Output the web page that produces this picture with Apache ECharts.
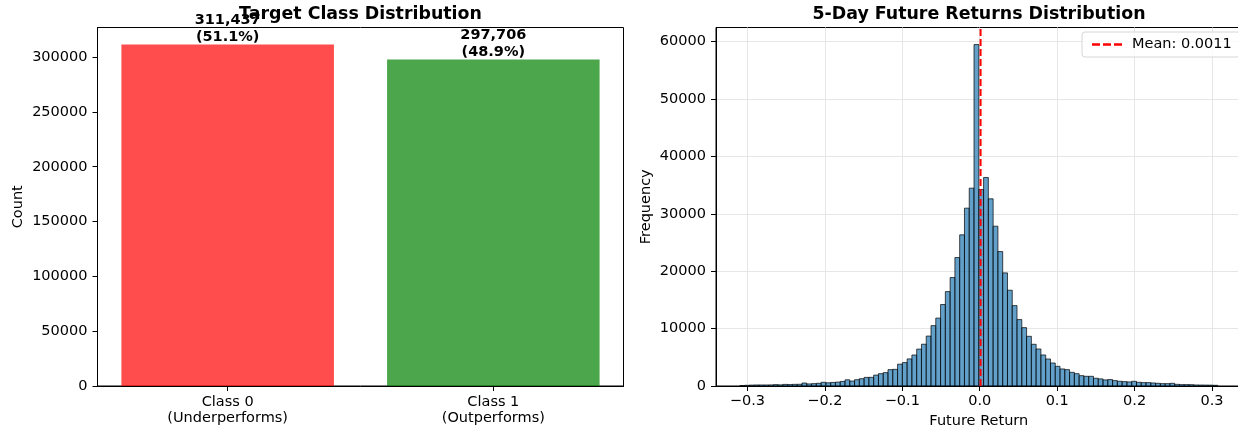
<!DOCTYPE html>
<html>
<head>
<meta charset="utf-8">
<script src="https://cdn.jsdelivr.net/npm/echarts@6/dist/echarts.min.js"></script>
<style>
  html, body { margin: 0; padding: 0; background: #ffffff; }
  #chart { width: 1238px; height: 431px; }
</style>
</head>
<body>
<div id="chart"></div>
<script>
// ---- data ----
const classNames = ['Class 0\n(Underperforms)', 'Class 1\n(Outperforms)'];
const classCounts = [311437, 297706];
const countTicks = [0, 50000, 100000, 150000, 200000, 250000, 300000];

// histogram of 5-day future returns: 100 equal bins over returnRange
const returnRange = [-0.3097, 0.3073];
const returnCounts = [
  80, 120, 160, 180, 180, 180, 190, 240, 200, 280,
  250, 290, 300, 520, 360, 410, 470, 650, 560, 620,
  680, 800, 1080, 860, 1100, 1270, 1500, 1510, 1900, 2150,
  2330, 2850, 2900, 3800, 4080, 4720, 5400, 6430, 7280, 8700,
  10520, 11830, 14200, 16450, 18900, 22380, 26340, 30990, 34480, 59500,
  34240, 36340, 32620, 27850, 23430, 19710, 16690, 14010, 11570, 10170,
  8660, 7270, 6450, 5410, 4710, 4010, 3430, 2970, 2850, 2380,
  2150, 1800, 1690, 1690, 1350, 1240, 1060, 1120, 940, 820,
  760, 710, 820, 650, 590, 590, 530, 470, 410, 410,
  470, 290, 240, 240, 230, 180, 170, 160, 150, 120
];
const meanReturn = 0.0011;
const freqTicks = [0, 10000, 20000, 30000, 40000, 50000, 60000];
const returnTicks = [-0.3, -0.2, -0.1, 0, 0.1, 0.2, 0.3];

// ---- derived values ----
const FONT = '"DejaVu Sans", "Liberation Sans", sans-serif';
const totalCount = classCounts.reduce((a, b) => a + b, 0);
const classYMax = Math.max(...classCounts) * 1.05;
const classData = classCounts.map((c, i) => [i, c]);

const binWidth = (returnRange[1] - returnRange[0]) / returnCounts.length;
const histData = returnCounts.map((c, i) => [
  returnRange[0] + i * binWidth,
  returnRange[0] + (i + 1) * binWidth,
  c
]);
const span = returnRange[1] - returnRange[0];
const histXMin = returnRange[0] - 0.05 * span;
const histXMax = returnRange[1] + 0.05 * span;
const histYMax = Math.max(...returnCounts) * 1.05;
const meanLabel = 'Mean: ' + meanReturn.toFixed(4);

const barFills = ['rgba(255,0,0,0.7)', 'rgba(0,128,0,0.7)'];

function fmtReturn(v) {
  if (Math.abs(v) < 1e-9) return '0.0';
  return (v < 0 ? '\u2212' : '') + Math.abs(v).toFixed(1);
}

function renderClassBar(params, api) {
  const idx = api.value(0);
  const count = api.value(1);
  const tl = api.coord([idx - 0.4, count]);
  const br = api.coord([idx + 0.4, 0]);
  const pct = (count / totalCount * 100).toFixed(1);
  return {
    type: 'group',
    children: [
      {
        type: 'rect',
        shape: { x: tl[0], y: tl[1], width: br[0] - tl[0], height: br[1] - tl[1] },
        style: { fill: barFills[params.dataIndex] }
      },
      {
        type: 'text',
        x: (tl[0] + br[0]) / 2,
        y: tl[1] + 1,
        style: {
          text: count.toLocaleString('en-US') + '\n(' + pct + '%)',
          align: 'center',
          verticalAlign: 'bottom',
          fontFamily: FONT,
          fontWeight: 'bold',
          fontSize: 14.5,
          lineHeight: 17,
          fill: '#000'
        }
      }
    ]
  };
}

function renderBin(params, api) {
  const p0 = api.coord([api.value(0), api.value(2)]);
  const p1 = api.coord([api.value(1), 0]);
  return {
    type: 'rect',
    shape: { x: p0[0], y: p0[1], width: p1[0] - p0[0], height: p1[1] - p0[1] },
    style: { fill: 'rgba(31,119,180,0.7)', stroke: 'rgba(0,0,0,0.7)', lineWidth: 1 }
  };
}

const tickText = { color: '#000', fontSize: 14.5, fontFamily: FONT };
const blackLine = { color: '#000', width: 1 };
const titleText = { fontFamily: FONT, fontSize: 17.4, fontWeight: 'bold', color: '#000' };

const chart = echarts.init(document.getElementById('chart'), null, { renderer: 'canvas' });

chart.setOption({
  animation: false,
  backgroundColor: '#ffffff',
  title: [
    { text: 'Target Class Distribution', left: 360.5, top: 6, textAlign: 'center', padding: 0, textStyle: titleText },
    { text: '5-Day Future Returns Distribution', left: 979, top: 6, textAlign: 'center', padding: 0, textStyle: titleText }
  ],
  legend: {
    data: [meanLabel],
    left: 1082, top: 32,
    padding: [5, 8, 5, 10],
    itemWidth: 30, itemHeight: 14,
    icon: 'path://M0,0h8v2.5h-8z M11,0h8v2.5h-8z M22,0h8v2.5h-8z',
    itemStyle: { color: '#ff0000' },
    backgroundColor: 'rgba(255,255,255,0.8)',
    borderColor: '#d6d6d6', borderWidth: 1, borderRadius: 3,
    textStyle: { color: '#000', fontSize: 14.5, fontFamily: FONT, padding: [0, 0, 0, 5] }
  },
  grid: [
    { left: 97.5, top: 27.5, width: 526, height: 358.5, outerBoundsMode: 'none', containLabel: false,
      show: true, borderColor: '#000', borderWidth: 1, backgroundColor: 'transparent' },
    { left: 716, top: 27.5, width: 525.6, height: 358.5, outerBoundsMode: 'none', containLabel: false,
      show: true, borderColor: '#000', borderWidth: 1, backgroundColor: 'transparent' }
  ],
  xAxis: [
    {
      type: 'value', gridIndex: 0, min: -0.49, max: 1.49,
      axisLine: { onZero: false, lineStyle: blackLine },
      axisTick: { length: 5, customValues: [0, 1], lineStyle: blackLine },
      axisLabel: Object.assign({ customValues: [0, 1], margin: 8, lineHeight: 16, formatter: v => classNames[Math.round(v)] }, tickText),
      splitLine: { show: false }
    },
    {
      type: 'value', gridIndex: 1, min: histXMin, max: histXMax,
      axisLine: { onZero: false, lineStyle: blackLine },
      axisTick: { length: 5, customValues: returnTicks, lineStyle: blackLine },
      axisLabel: Object.assign({ customValues: returnTicks, margin: 8, formatter: fmtReturn }, tickText),
      splitLine: { show: true, lineStyle: { color: '#e6e6e6', width: 1 } },
      name: 'Future Return', nameLocation: 'middle', nameGap: 27,
      nameTextStyle: tickText
    }
  ],
  yAxis: [
    {
      type: 'value', gridIndex: 0, min: 0, max: classYMax,
      axisLine: { show: true, onZero: false, lineStyle: blackLine },
      axisTick: { show: true, length: 5, customValues: countTicks, lineStyle: blackLine },
      axisLabel: Object.assign({ customValues: countTicks, margin: 10, formatter: v => String(v) }, tickText),
      splitLine: { show: false },
      name: 'Count', nameLocation: 'middle', nameGap: 72, nameRotate: 90,
      nameTextStyle: tickText
    },
    {
      type: 'value', gridIndex: 1, min: 0, max: histYMax, interval: 10000,
      axisLine: { show: true, onZero: false, lineStyle: blackLine },
      axisTick: { show: true, length: 5, customValues: freqTicks, lineStyle: blackLine },
      axisLabel: Object.assign({ customValues: freqTicks, margin: 10, formatter: v => String(v) }, tickText),
      splitLine: { show: true, lineStyle: { color: '#e6e6e6', width: 1 } },
      name: 'Frequency', nameLocation: 'middle', nameGap: 62, nameRotate: 90,
      nameTextStyle: tickText
    }
  ],
  series: [
    {
      name: 'Target class',
      type: 'custom',
      xAxisIndex: 0, yAxisIndex: 0,
      renderItem: renderClassBar,
      encode: { x: 0, y: 1 },
      data: classData
    },
    {
      name: 'Future returns',
      type: 'custom',
      xAxisIndex: 1, yAxisIndex: 1,
      renderItem: renderBin,
      encode: { x: [0, 1], y: 2 },
      data: histData,
      z: 2
    },
    {
      name: meanLabel,
      type: 'line',
      xAxisIndex: 1, yAxisIndex: 1,
      symbol: 'none',
      data: [[meanReturn, 0], [meanReturn, histYMax]],
      lineStyle: { color: '#ff0000', width: 2, type: [7, 3] },
      itemStyle: { color: '#ff0000' },
      z: 5
    }
  ]
});
</script>
</body>
</html>
